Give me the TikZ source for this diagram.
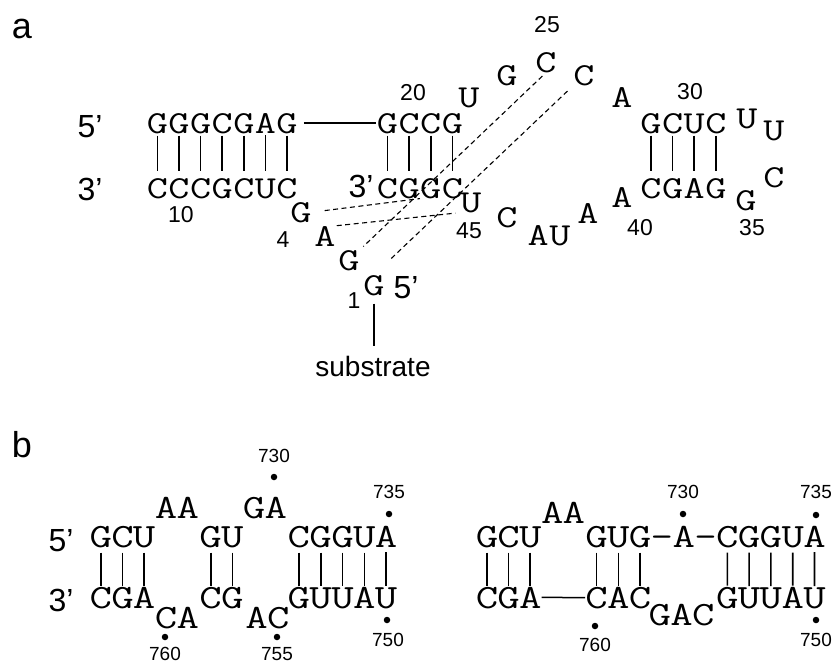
\documentclass[tikz,border=0pt]{standalone}
\usepackage{fontspec}
\setmainfont{Liberation Sans}
\newfontfamily\ntfont[FakeStretch=1.28]{Latin Modern Mono}
% one row of nucleotides: style, name prefix, first x, pitch, baseline, letters
\newcommand\ntrow[6]{%
  \foreach \ntchar [count=\i] in {#6}{%
    \node[#1] (#2-\i) at ({#3+(\i-1)*#4},#5) {\ntchar};}}
\begin{document}
\begin{tikzpicture}[x=1pt,y=-1pt,
  nt/.style={font=\ntfont\fontsize{32}{32}\selectfont, inner sep=0pt, anchor=base},
  ntb/.style={nt, font=\ntfont\fontsize{34}{34}\selectfont},
  pair/.style={line width=1.6pt, shorten <=2pt, shorten >=7pt},
  pairb/.style={line width=1.6pt, shorten <=5pt, shorten >=1pt},
  tert/.style={dash pattern=on 5pt off 3.5pt, line width=1.1pt},
  bond/.style={line width=1.5pt},
  num/.style={font=\fontsize{23}{23}\selectfont, inner sep=0pt},
  numb/.style={font=\fontsize{19}{19}\selectfont, inner sep=0pt},
  endlbl/.style={font=\fontsize{32}{32}\selectfont, inner sep=0pt, anchor=base},
  panel/.style={font=\fontsize{36}{36}\selectfont, inner sep=0pt, anchor=base},
  dot/.style={circle, fill, inner sep=0pt, minimum size=6.5pt}]
\useasboundingbox (0,0) rectangle (834,664);

% ---------------- panel a ----------------
\node[panel] (pa) at (22,38) {a};
\node[endlbl] (a5) at (90,137) {5’};
\node[endlbl] (a3) at (90,200) {3’};

% stems
\ntrow{nt}{s}{157.4}{21.6}{133}{G,G,G,C,G,A,G}
\ntrow{nt}{t}{157.4}{21.6}{198}{C,C,C,G,C,U,C}
\ntrow{nt}{u}{387.5}{21.6}{133}{G,C,C,G}
\ntrow{nt}{v}{387.5}{21.6}{198}{C,G,G,C}
\ntrow{nt}{w}{651}{21.6}{133}{G,C,U,C}
\ntrow{nt}{z}{651}{21.6}{198}{C,G,A,G}
\node[endlbl] (v3) at (361,197) {3’};

% unpaired nucleotides
\node[nt] (n23) at (469,107) {U};
\node[nt] (n24) at (507,85) {G};
\node[nt] (n25) at (546,72) {C};
\node[nt] (n26) at (584,85) {C};
\node[nt] (n27) at (622,107) {A};
\node[nt] (n32) at (747,128) {U};
\node[nt] (n33) at (774,140) {U};
\node[nt] (n34) at (774,187) {C};
\node[nt] (n35) at (746,210) {G};
\node[nt] (n40) at (622,207) {A};
\node[nt] (n41) at (588,223) {A};
\node[nt] (n42) at (559.8,245) {U};
\node[nt] (n43) at (538.2,245) {A};
\node[nt] (n44) at (507,227) {C};
\node[nt] (n45) at (471,212) {U};
\node[nt] (n4) at (301,222) {G};
\node[nt] (n3) at (325,246) {A};
\node[nt] (n2) at (349,270) {G};
\node[nt] (n1) at (374,295) {G};
\node[endlbl] (g5) at (406,298) {5’};

% numbering
\node[num] (l1) at (354,301) {1};
\node[num] (l4) at (283,240) {4};
\node[num] (l10) at (181,215) {10};
\node[num] (l20) at (413,93) {20};
\node[num] (l25) at (547,25) {25};
\node[num] (l30) at (690,92) {30};
\node[num] (l35) at (752,228) {35};
\node[num] (l40) at (640,228) {40};
\node[num] (l45) at (469,231) {45};

% base pairs
\foreach \i in {1,...,7} \draw[pair] (s-\i) -- (t-\i);
\foreach \i in {1,...,4} {
  \draw[pair] (u-\i) -- (v-\i);
  \draw[pair] (w-\i) -- (z-\i);
}
\draw[bond, shorten <=6pt, shorten >=1pt] (s-7.east) -- (u-1.west);

% tertiary contacts
\draw[tert, shorten <=5pt, shorten >=5pt] (n25.south) -- (n2.north east);
\draw[tert, shorten <=8pt, shorten >=21pt] (n26.south west) -- (n1.north);
\draw[tert, shorten <=13pt] (n4.east) -- (v-3.south west);
\draw[tert, shorten <=1pt, shorten >=5pt] (n3.north east) -- (n45.south west);

% substrate tether
\node[font=\fontsize{28}{28}\selectfont, inner sep=0pt, anchor=base] (sub) at (373,376) {substrate};
\draw[line width=1.6pt, shorten <=8pt, shorten >=10pt] (n1.south) -- (n1.south |- sub.north);

% ---------------- panel b ----------------
\node[panel] (pb) at (22,457) {b};
\node[endlbl] (b5) at (61,551) {5’};
\node[endlbl] (b3) at (61,611) {3’};

% left structure
\ntrow{ntb}{ga}{100.9}{21.6}{547}{G,C,U}
\ntrow{ntb}{gb}{100.9}{21.6}{608}{C,G,A}
\ntrow{ntb}{gc}{166.2}{21.6}{518}{A,A}
\ntrow{ntb}{gd}{166.2}{21.6}{628}{C,A}
\ntrow{ntb}{ge}{210.7}{21.6}{547}{G,U}
\ntrow{ntb}{gf}{210.7}{21.6}{608}{C,G}
\ntrow{ntb}{gg}{254.2}{21.6}{518}{G,A}
\ntrow{ntb}{gh}{256.7}{21.6}{628}{A,C}
\ntrow{ntb}{gi}{298.9}{21.8}{547}{C,G,G,U,A}
\ntrow{ntb}{gj}{298.9}{21.8}{608}{G,U,U,A,U}
\foreach \i in {1,2,3} \draw[pairb] (ga-\i) -- (gb-\i);
\foreach \i in {1,2} \draw[pairb] (ge-\i) -- (gf-\i);
\foreach \i in {1,...,5} \draw[pairb] (gi-\i) -- (gj-\i);

\node[dot] (gd730) at (274,477) {};
\node[dot] (gd735) at (389,514) {};
\node[dot] (gd760) at (165,637) {};
\node[dot] (gd755) at (277,637) {};
\node[dot] (gd750) at (387,620) {};
\node[numb] (gn730) at (274,456) {730};
\node[numb] (gn735) at (389,492) {735};
\node[numb] (gn760) at (165,654) {760};
\node[numb] (gn755) at (277,654) {755};
\node[numb] (gn750) at (388,640) {750};

% right structure
\ntrow{ntb}{ha}{487}{21.6}{547}{G,C,U}
\ntrow{ntb}{hb}{487}{21.6}{608}{C,G,A}
\ntrow{ntb}{hc}{552.2}{21.6}{523}{A,A}
\ntrow{ntb}{hd}{596.5}{21.8}{547}{G,U,G,-,A,-,C,G,G,U,A}
\ntrow{ntb}{he}{596.5}{21.8}{608}{C,A,C}
\ntrow{ntb}{hf}{659.7}{21.8}{625}{G,A,C}
\ntrow{ntb}{hg}{727.3}{21.8}{608}{G,U,U,A,U}
\foreach \i in {1,2,3} {
  \draw[pairb] (ha-\i) -- (hb-\i);
  \draw[pairb] (hd-\i) -- (he-\i);
}
\foreach \i [evaluate=\i as \j using int(\i+6)] in {1,...,5} \draw[pairb] (hd-\j) -- (hg-\i);
\draw[bond] (hb-3.east) -- (he-1.west);

\node[dot] (hd730) at (683,514) {};
\node[dot] (hd735) at (816,515) {};
\node[dot] (hd760) at (595,626) {};
\node[dot] (hd750) at (816,620) {};
\node[numb] (hn730) at (683,492) {730};
\node[numb] (hn735) at (816,492) {735};
\node[numb] (hn760) at (595,645) {760};
\node[numb] (hn750) at (816,640) {750};
\end{tikzpicture}
\end{document}
